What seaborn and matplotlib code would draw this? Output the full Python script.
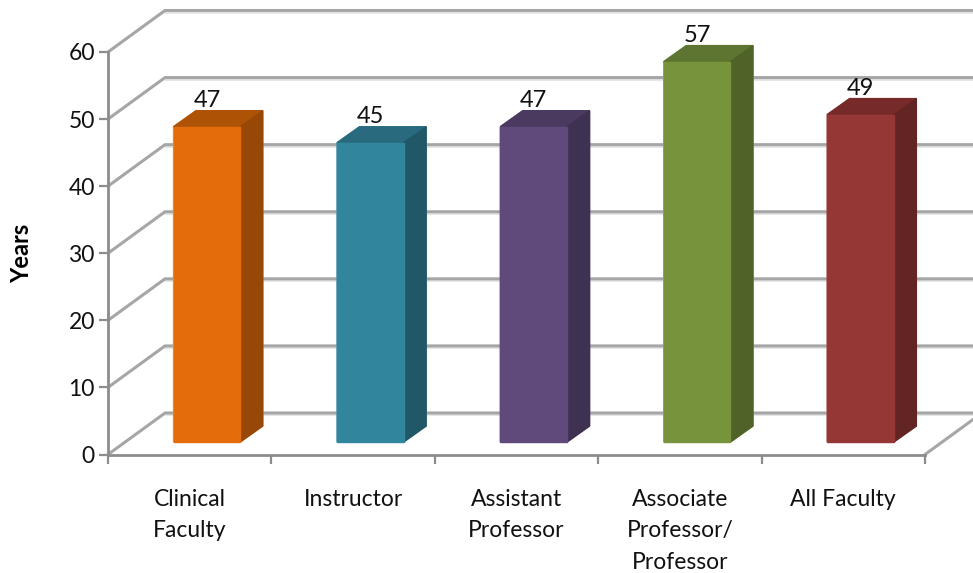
import matplotlib.pyplot as plt
import seaborn as sns
from matplotlib.patches import Polygon

# values (bar tops are not whole numbers, labels are rounded)
categories = ["Clinical\nFaculty", "Instructor", "Assistant\nProfessor",
              "Associate\nProfessor/\nProfessor", "All Faculty"]
years = [47.0, 44.6, 47.0, 56.7, 48.8]
y_ticks = [0, 10, 20, 30, 40, 50, 60]

front_colors = ["#E46C0A", "#31859C", "#604A7B", "#77933C", "#953735"]
top_colors = ["#AE5305", "#2A6A7E", "#4A3A60", "#5D7530", "#762B2A"]
side_colors = ["#974806", "#205867", "#3F3151", "#4F6228", "#632523"]
edge_colors = ["#F28A35", "#5A9DB0", "#7D6A94", "#8FA65E", "#B06462"]

# fake 3d offsets in pixels (right, up)
BAR_SHIFT = (17.2, 12.5)
BAR_DEPTH = (22.5, 16)
WALL_DEPTH = (57, 41.5)

sns.set_style("white")
plt.rcParams["font.family"] = ["Lato", "DejaVu Sans"]

W, H = 973, 573
fig = plt.figure(figsize=(W / 100, H / 100), dpi=100)
ax = fig.add_axes([108 / W, 1 - 454.5 / H, (925 - 108) / W, (454.5 - 52) / H])

sns.barplot(x=categories, y=years, hue=categories, palette=front_colors,
            saturation=1, width=0.408, legend=False, ax=ax, zorder=3)
ax.set_xlim(-0.5, 4.5)
ax.set_ylim(0, 60)
ax.set_yticks(y_ticks)
ax.set_xlabel("")
ax.set_ylabel("Years", fontsize=17, fontweight="bold", color="black", labelpad=25)

sns.despine(ax=ax, top=True, right=True)
for side in ["left", "bottom"]:
    ax.spines[side].set_color("#8C8C8C")
    ax.spines[side].set_linewidth(2)
ax.set_xticks([i - 0.5 for i in range(6)], minor=True)
ax.tick_params(axis="x", which="major", bottom=False, pad=21, labelsize=16.5, labelcolor="#111111")
ax.tick_params(axis="x", which="minor", bottom=True, length=6.5, width=1.6, color="#8C8C8C")
ax.tick_params(axis="y", which="major", left=True, length=6.5, width=1.6, color="#8C8C8C",
               labelsize=16.5, labelcolor="#111111", pad=3)
for label in ax.get_xticklabels():
    label.set_linespacing(1.62)

fig.canvas.draw()
to_px = ax.transData.transform


def draw_poly(points, color, edge=None, zorder=4):
    fig.add_artist(Polygon(points, closed=True, facecolor=color, edgecolor=edge or color,
                           linewidth=1, zorder=zorder, transform=None))


# back wall + left wall gridlines
for tick in y_ticks:
    x0, y0 = to_px((-0.5, tick))
    xb, yb = x0 + WALL_DEPTH[0], y0 + WALL_DEPTH[1]
    ax.plot([x0, xb, W + 20], [y0, yb, yb], color="#A6A6A6", lw=2.2, transform=None,
            clip_on=False, zorder=1, solid_joinstyle="miter")
    ax.plot([xb, W + 20], [yb - 2, yb - 2], color="#E2E2E2", lw=1.2, transform=None,
            clip_on=False, zorder=0.9)

# floor edge on the right
x0, y0 = to_px((4.5, 0))
ax.plot([x0, x0 + WALL_DEPTH[0]], [y0, y0 + WALL_DEPTH[1]], color="#A6A6A6", lw=2.2,
        transform=None, clip_on=False, zorder=1)

# shift the seaborn bars back from the axis plane and give them depth
bars = sorted(ax.patches, key=lambda p: p.get_x())
for i, bar in enumerate(bars):
    xa, ya = to_px((bar.get_x(), 0))
    xb, yb = to_px((bar.get_x() + bar.get_width(), years[i]))
    xa, xb = xa + BAR_SHIFT[0], xb + BAR_SHIFT[0]
    ya, yb = ya + BAR_SHIFT[1], yb + BAR_SHIFT[1]
    bar.set_visible(False)
    dx, dy = BAR_DEPTH
    draw_poly([(xa, ya), (xb, ya), (xb + dx, ya + dy), (xb + dx, yb + dy), (xa + dx, yb + dy), (xa, yb)],
              edge_colors[i], zorder=4)
    draw_poly([(xa, yb), (xb, yb), (xb + dx, yb + dy), (xa + dx, yb + dy)], top_colors[i], zorder=5)
    draw_poly([(xb, ya), (xb + dx, ya + dy), (xb + dx, yb + dy), (xb, yb)], side_colors[i], zorder=5)
    draw_poly([(xa, ya), (xb, ya), (xb, yb), (xa, yb)], front_colors[i], zorder=6)
    fig.text((xa + xb) / 2 / W, (yb + 26) / H, f"{years[i]:.0f}", ha="center", va="center",
             fontsize=17, color="#111111", zorder=7)

fig.savefig("out.png", dpi=100, facecolor="white")
